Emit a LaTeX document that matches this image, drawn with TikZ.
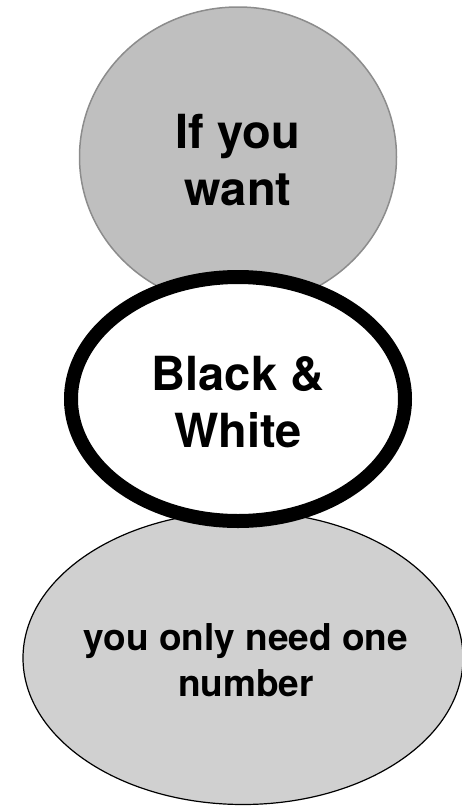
\documentclass[tikz,border=0pt]{standalone}
\usepackage{fontspec}
\setmainfont{TeX Gyre Heros}
\usetikzlibrary{shapes.geometric}
\definecolor{wantfill}{HTML}{BFBFBF}
\definecolor{wantrule}{HTML}{8C8C8C}
\definecolor{numfill}{HTML}{D0D0D0}

\begin{document}
\begin{tikzpicture}[
  x=1pt, y=1pt,
  blob/.style={
    ellipse, inner sep=0pt
  },
  wantblob/.style={
    blob, fill=wantfill, draw=wantrule, line width=1.5pt,
    minimum width=317pt, minimum height=300pt
  },
  bwblob/.style={
    blob, fill=white, draw=black, line width=14pt,
    minimum width=334pt, minimum height=244pt
  },
  numblob/.style={
    blob, fill=numfill, draw=black, line width=1.2pt,
    minimum width=440pt, minimum height=293pt
  },
  bigtext/.style={align=center, font=\fontsize{47}{57}\selectfont\bfseries},
  smalltext/.style={align=center, font=\fontsize{37}{46}\selectfont\bfseries}
]

% page frame, 462 x 806
\useasboundingbox (0,0) rectangle (462,-806);

% --- top: grey circle
\node[wantblob] (want) at (238,-157) {};
\node[bigtext] (wanttext) at (238,-160) {If you\\want};

% --- bottom: light grey ellipse (behind the middle one)
\node[numblob] (num) at (243,-658) {};
\node[smalltext] (numtext) at (246,-660) {you only need one\\number};

% --- middle: white ellipse, heavy black ring
\node[bwblob] (bw) at (238,-399) {};
\node[bigtext] (bwtext) at (238,-402) {Black \&\\White};

\end{tikzpicture}
\end{document}
